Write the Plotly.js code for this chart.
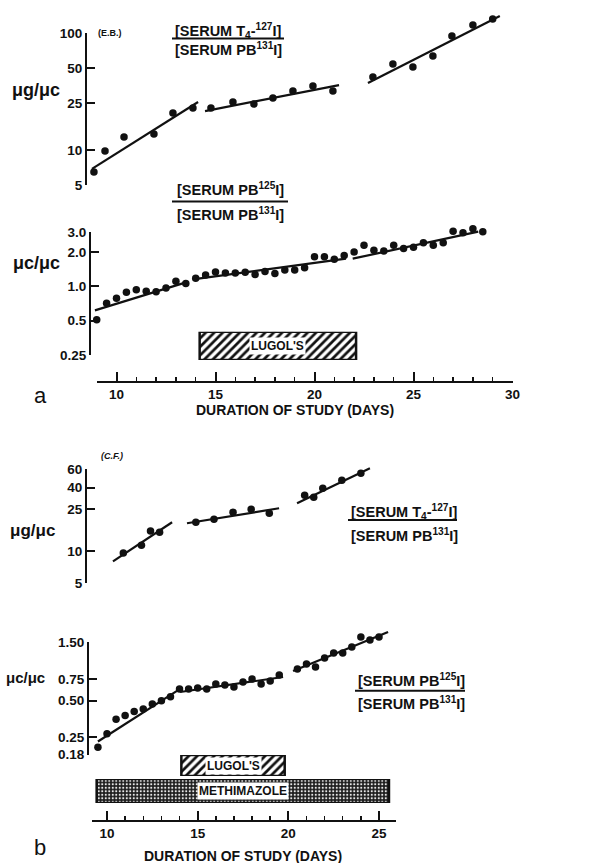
<!DOCTYPE html>
<html><head><meta charset="utf-8">
<script src="https://cdn.plot.ly/plotly-3.0.1.min.js"></script>
<style>html,body{margin:0;padding:0;background:#fff;} #chart{width:591px;height:863px;}</style>
</head><body><div id="chart"></div>
<script>
// ---------- DATA ----------
// Panel a, upper: [serum T4-127I]/[serum PB131I] (ug/uc)
const aT4Days1 = [8.86, 9.42, 10.38, 11.89, 12.85, 13.86];
const aT4Vals1 = [6.5, 9.8, 12.9, 13.7, 20.7, 22.9];
const aT4Days2 = [14.77, 15.88, 16.94, 17.9, 18.91, 19.92, 20.93];
const aT4Vals2 = [22.9, 25.7, 24.7, 27.8, 31.9, 35.2, 31.9];
const aT4Days3 = [22.95, 23.96, 24.97, 25.98, 26.94, 28.0, 29.0];
const aT4Vals3 = [42.1, 54.3, 51.2, 63.6, 94.3, 117, 131.8];
const aT4FitDays = [[8.76, 14.12], [14.47, 21.24], [22.7, 29.36]];
const aT4FitVals = [[6.9, 25.7], [21.5, 35.9], [37.4, 139.7]];

// Panel a, lower: [serum PB125I]/[serum PB131I] (uc/uc)
const aPBDays = [9, 9.5, 10, 10.5, 11, 11.5, 12, 12.5, 13, 13.5, 14, 14.5, 15, 15.5, 16, 16.5, 17, 17.5, 18, 18.5,
                 19, 19.5, 20, 20.5, 21, 21.5, 22, 22.5, 23, 23.5, 24, 24.5, 25, 25.5, 26, 26.5, 27, 27.5, 28, 28.5];
const aPBVals = [0.51, 0.71, 0.785, 0.89, 0.935, 0.905, 0.895, 0.97, 1.11, 1.06, 1.18, 1.26, 1.34, 1.31, 1.31, 1.33, 1.27, 1.35, 1.30, 1.39,
                 1.39, 1.46, 1.82, 1.82, 1.73, 1.87, 2.0, 2.29, 2.08, 2.04, 2.30, 2.15, 2.21, 2.42, 2.29, 2.42, 3.05, 2.96, 3.2, 3.02];
const aPBFitDays = [[8.91, 13.55], [13.85, 21.59], [21.93, 28.27]];
const aPBFitVals = [[0.616, 1.09], [1.15, 1.75], [1.75, 3.02]];

// Panel a treatment
const aTreatNames = ["LUGOL'S"];
const aTreatStart = [14.2];
const aTreatEnd = [22.1];

// Panel b, upper: [serum T4-127I]/[serum PB131I] (ug/uc)
const bT4Days1 = [10.9, 11.9, 12.4, 12.9];
const bT4Vals1 = [9.6, 11.4, 15.5, 15.1];
const bT4Days2 = [14.9, 15.9, 16.95, 17.95, 18.95];
const bT4Vals2 = [18.8, 20.1, 23.4, 25.0, 22.9];
const bT4Days3 = [20.9, 21.4, 21.9, 22.95, 24.0];
const bT4Vals3 = [33.9, 32.4, 39.5, 47.0, 54.8];
const bT4FitDays = [[10.33, 13.59], [14.41, 19.49], [20.48, 24.5]];
const bT4FitVals = [[8.0, 18.8], [18.4, 25.5], [28.5, 61]];

// Panel b, lower: [serum PB125I]/[serum PB131I] (uc/uc)
const bPBDays1 = [9.5, 10, 10.5, 11, 11.5, 12, 12.5, 13, 13.5, 14];
const bPBVals1 = [0.207, 0.267, 0.352, 0.377, 0.407, 0.428, 0.470, 0.500, 0.540, 0.625];
const bPBDays2 = [14.5, 15, 15.5, 16, 16.5, 17, 17.5, 18, 18.5, 19, 19.5];
const bPBVals2 = [0.625, 0.636, 0.625, 0.687, 0.673, 0.648, 0.713, 0.755, 0.687, 0.726, 0.814];
const bPBDays3 = [20.5, 21, 21.5, 22, 22.5, 23, 23.5, 24, 24.5, 25];
const bPBVals3 = [0.912, 1.003, 0.946, 1.122, 1.235, 1.235, 1.384, 1.673, 1.58, 1.673];
const bPBFitDays = [[9.5, 14.03], [14.03, 19.71], [20.26, 25.5]];
const bPBFitVals = [[0.231, 0.625], [0.59, 0.783], [0.877, 1.84]];

// Panel b treatments
const bTreatNames = ["LUGOL'S", "METHIMAZOLE"];
const bTreatStart = [14.1, 9.43];
const bTreatEnd = [19.8, 25.55];

// Tick labels
const aTopTicks = [5, 10, 25, 50, 100];
const aBotTicks = [0.25, 0.5, 1, 2, 3];
const aBotTickText = ["0.25", "0.5", "1.0", "2.0", "3.0"];
const aDayTicks = [10, 15, 20, 25, 30];
const bTopTicks = [5, 10, 25, 40, 60];
const bBotTicks = [0.18, 0.25, 0.5, 0.75, 1.5];
const bBotTickText = ["0.18", "0.25", "0.50", "0.75", "1.50"];
const bDayTicks = [10, 15, 20, 25];

// ---------- LAYOUT HELPERS ----------
const W = 591, H = 863;
const INK = '#111';
const FONT = 'Liberation Sans, Arial, sans-serif';
const L10 = Math.log10;

// calibration: pixel pA <-> value vA, pB <-> vB (values already in axis units)
function calib(pA, vA, pB, vB) {
  const k = (vB - vA) / (pB - pA);
  return { toVal: p => vA + (p - pA) * k, toPx: v => pA + (v - vA) / k };
}
function xData(c, left, right) {
  return { visible: false, anchor: 'free', position: 0, domain: [left / W, right / W], range: [c.toVal(left), c.toVal(right)], autorange: false, fixedrange: true };
}
function yData(c, top, bot, log) {
  return { visible: false, anchor: 'free', position: 0, type: log ? 'log' : 'linear', domain: [1 - bot / H, 1 - top / H], range: [c.toVal(bot), c.toVal(top)], autorange: false, fixedrange: true };
}
const tickFont = { family: FONT, size: 13.5, color: INK, weight: 'bold' };
function xVis(c, v0, v1, ypx, tickvals) {
  const p0 = c.toPx(v0), p1 = c.toPx(v1);
  return {
    anchor: 'free', position: 1 - ypx / H, domain: [p0 / W, p1 / W], range: [v0, v1], autorange: false, fixedrange: true,
    showline: true, linecolor: INK, linewidth: 2, showgrid: false, zeroline: false,
    ticks: 'inside', ticklen: 9, tickwidth: 2, tickcolor: INK, tickmode: 'array', tickvals: tickvals, ticktext: tickvals.map(String),
    tickfont: tickFont,
    minor: { dtick: 1, tick0: 0, ticks: 'inside', ticklen: 4, tickwidth: 1.5, tickcolor: INK, showgrid: false }
  };
}
function yVis(c, v0, v1, xpx, tickvals, ticktext) {
  const a = L10(v0) - 0.002, b = L10(v1) + 0.002;
  const p0 = c.toPx(a), p1 = c.toPx(b);
  return {
    type: 'log', anchor: 'free', position: xpx / W, domain: [1 - p0 / H, 1 - p1 / H], range: [a, b], autorange: false, fixedrange: true,
    showline: true, linecolor: INK, linewidth: 2, showgrid: false, zeroline: false,
    ticks: 'inside', ticklen: 8, tickwidth: 2, tickcolor: INK, tickmode: 'array', tickvals: tickvals, ticktext: ticktext || tickvals.map(String),
    tickfont: tickFont
  };
}

// calibrations
const cAx = calib(116.5, 10, 512.5, 30);
const cAyTop = calib(33, L10(100), 150, L10(10));
const cAyBot = calib(232, L10(3), 355, L10(0.25));
const cBx = calib(107, 10, 379, 25);
const cByTop = calib(469, L10(60), 583, L10(5));
const cByBot = calib(642.7, L10(1.5), 737.3, L10(0.25));

const layout = {
  width: W, height: H, autosize: false,
  margin: { l: 0, r: 0, t: 0, b: 0, pad: 0 },
  paper_bgcolor: '#fff', plot_bgcolor: 'rgba(0,0,0,0)',
  showlegend: false, hovermode: false,
  font: { family: FONT, color: INK },
  // data axes (hidden)
  xaxis: xData(cAx, 20, 585),
  yaxis: yData(cAyTop, 5, 200, true),
  yaxis2: yData(cAyBot, 200, 365, true),
  yaxis5: { visible: false, anchor: 'free', position: 0, domain: [1 - 360 / H, 1 - 331.7 / H], range: [-0.5, 0.5], fixedrange: true },
  xaxis3: xData(cBx, 20, 585),
  yaxis6: yData(cByTop, 440, 600, true),
  yaxis7: yData(cByBot, 610, 765, true),
  yaxis10: { visible: false, anchor: 'free', position: 0, domain: [1 - 776 / H, 1 - 755 / H], range: [-0.5, 0.5], fixedrange: true },
  yaxis11: { visible: false, anchor: 'free', position: 0, domain: [1 - 803 / H, 1 - 779 / H], range: [-0.5, 0.5], fixedrange: true },
  // visible axes
  xaxis2: xVis(cAx, 8.995, 30.005, 382, aDayTicks),
  yaxis3: yVis(cAyTop, 5, 100, 86, aTopTicks),
  yaxis4: yVis(cAyBot, 0.25, 3, 90, aBotTicks, aBotTickText),
  xaxis4: xVis(cBx, 9.2, 25.95, 821, bDayTicks),
  yaxis8: yVis(cByTop, 5, 60, 86, bTopTicks),
  yaxis9: yVis(cByBot, 0.18, 1.5, 88, bBotTicks, bBotTickText),
  shapes: [], annotations: []
};

// ---------- TRACES ----------
const traces = [];
function pts(xs, ys, xa, ya) {
  traces.push({ type: 'scatter', mode: 'markers', x: xs, y: ys, xaxis: xa, yaxis: ya, cliponaxis: false,
    marker: { color: INK, size: 7.5, line: { width: 0 } }, hoverinfo: 'skip' });
}
function fits(xsArr, ysArr, xa, ya) {
  xsArr.forEach((xs, i) => traces.push({ type: 'scatter', mode: 'lines', x: xs, y: ysArr[i], xaxis: xa, yaxis: ya,
    line: { color: INK, width: 2.2 }, hoverinfo: 'skip' }));
}
pts(aT4Days1, aT4Vals1, 'x', 'y'); pts(aT4Days2, aT4Vals2, 'x', 'y'); pts(aT4Days3, aT4Vals3, 'x', 'y');
fits(aT4FitDays, aT4FitVals, 'x', 'y');
pts(aPBDays, aPBVals, 'x', 'y2');
fits(aPBFitDays, aPBFitVals, 'x', 'y2');
pts(bT4Days1, bT4Vals1, 'x3', 'y6'); pts(bT4Days2, bT4Vals2, 'x3', 'y6'); pts(bT4Days3, bT4Vals3, 'x3', 'y6');
fits(bT4FitDays, bT4FitVals, 'x3', 'y6');
pts(bPBDays1, bPBVals1, 'x3', 'y7'); pts(bPBDays2, bPBVals2, 'x3', 'y7'); pts(bPBDays3, bPBVals3, 'x3', 'y7');
fits(bPBFitDays, bPBFitVals, 'x3', 'y7');

// treatment bars
const hatch = { shape: '/', fgcolor: INK, bgcolor: '#fff', size: 6, solidity: 0.45 };
const stipple = { shape: '.', fgcolor: '#e8e8e8', bgcolor: '#1c1c1c', size: 3.5, solidity: 0.3 };
function treat(name, s, e, xa, ya, pattern) {
  traces.push({ type: 'bar', orientation: 'h', base: [s], x: [e - s], y: [0], width: [1], xaxis: xa, yaxis: ya,
    marker: { color: pattern.bgcolor, line: { color: INK, width: 2.5 }, pattern: pattern }, hoverinfo: 'skip' });
  layout.annotations.push({ xref: xa, yref: ya, x: (s + e) / 2, y: 0, text: name, showarrow: false,
    bgcolor: '#fff', borderpad: 1, font: { family: FONT, size: 12, color: INK, weight: 'bold' } });
}
treat(aTreatNames[0], aTreatStart[0], aTreatEnd[0], 'x', 'y5', hatch);
treat(bTreatNames[0], bTreatStart[0], bTreatEnd[0], 'x3', 'y10', hatch);
treat(bTreatNames[1], bTreatStart[1], bTreatEnd[1], 'x3', 'y11', stipple);

// empty traces so the visible axes get drawn
[['x2', 'y3'], ['x2', 'y4'], ['x4', 'y8'], ['x4', 'y9']].forEach(p =>
  traces.push({ type: 'scatter', mode: 'markers', x: [], y: [], xaxis: p[0], yaxis: p[1], hoverinfo: 'skip' }));

// ---------- TEXT ----------
function txt(t, xpx, ypx, size, opts) {
  layout.annotations.push(Object.assign({ xref: 'paper', yref: 'paper', x: xpx / W, y: 1 - ypx / H, text: t, showarrow: false,
    xanchor: 'center', yanchor: 'middle', font: { family: FONT, size: size, color: INK, weight: 'bold' } }, opts || {}));
}
function frac(num, den, cx, ynum, yline, yden, x0, x1) {
  txt(num, cx, ynum, 14.5);
  txt(den, cx, yden, 14.5);
  layout.shapes.push({ type: 'line', xref: 'paper', yref: 'paper', x0: x0 / W, x1: x1 / W, y0: 1 - yline / H, y1: 1 - yline / H,
    line: { color: INK, width: 2 } });
}
const T4 = '[SERUM T<sub>4</sub>-<sup>127</sup>I]';
const PB131 = '[SERUM PB<sup>131</sup>I]';
const PB125 = '[SERUM PB<sup>125</sup>I]';

txt('(E.B.)', 110, 33, 9);
txt('\u03bcg/\u03bcc', 36, 90, 18);
frac(T4, PB131, 228, 31, 38.5, 49, 172, 284);
frac(PB125, PB131, 230, 189, 201.5, 214, 172, 288);
txt('\u03bcc/\u03bcc', 36, 263, 18);
txt('a', 40, 395, 22, { font: { family: FONT, size: 22, color: INK, weight: 'normal' } });
txt('DURATION OF STUDY (DAYS)', 295, 410, 14);

txt('<i>(C.F.)</i>', 112, 456, 9);
txt('\u03bcg/\u03bcc', 32, 530, 17);
frac(T4, PB131, 405, 512, 520, 535, 348, 457);
txt('\u03bcc/\u03bcc', 25, 677, 15);
frac(PB125, PB131, 411, 680, 690.7, 702.5, 355, 465);
txt('b', 40, 847, 22, { font: { family: FONT, size: 22, color: INK, weight: 'normal' } });
txt('DURATION OF STUDY (DAYS)', 243, 856, 14);

Plotly.newPlot('chart', traces, layout, { staticPlot: true, displayModeBar: false });
</script></body></html>
